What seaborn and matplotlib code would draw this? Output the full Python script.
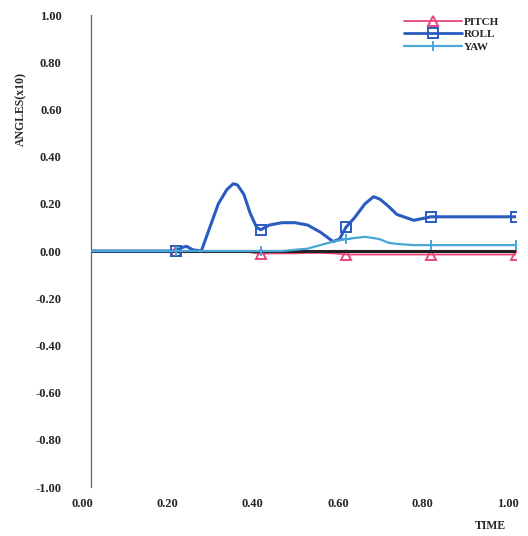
import matplotlib
matplotlib.use("Agg")
import matplotlib.pyplot as plt
import matplotlib.transforms as mtransforms
from matplotlib.lines import Line2D
import seaborn as sns
import pandas as pd

sns.set_theme(style="white")
plt.rcParams['font.family'] = ['Liberation Serif', 'DejaVu Serif']
plt.rcParams['font.weight'] = 'bold'

# ---- data ----
time = [0.00, 0.10, 0.19, 0.20, 0.215, 0.225, 0.24, 0.26, 0.28, 0.30, 0.32, 0.335,
        0.345, 0.36, 0.375, 0.39, 0.40, 0.42, 0.45, 0.48, 0.51, 0.54, 0.57, 0.585,
        0.60, 0.62, 0.645, 0.665, 0.68, 0.70, 0.72, 0.76, 0.80, 0.90, 1.00]
pitch = [0.0, 0.0, 0.0, 0.0, 0.0, 0.0, 0.0, 0.0, 0.0, 0.0, 0.0, 0.0,
         0.0, 0.0, -0.005, -0.01, -0.012, -0.01, -0.01, -0.01, -0.008, -0.008, -0.01, -0.012,
         -0.015, -0.015, -0.015, -0.015, -0.015, -0.015, -0.015, -0.015, -0.015, -0.015, -0.015]
roll = [0.0, 0.0, 0.0, 0.0, 0.015, 0.02, 0.005, 0.0, 0.10, 0.20, 0.26, 0.285,
        0.28, 0.24, 0.16, 0.10, 0.09, 0.11, 0.12, 0.12, 0.11, 0.08, 0.04, 0.05,
        0.10, 0.14, 0.20, 0.23, 0.22, 0.19, 0.155, 0.13, 0.145, 0.145, 0.145]
yaw = [0.0, 0.0, 0.0, 0.0, 0.0, 0.0, 0.0, 0.0, 0.0, 0.0, 0.0, 0.0,
       0.0, 0.0, 0.0, 0.0, 0.0, 0.0, 0.0, 0.005, 0.01, 0.025, 0.04, 0.045,
       0.05, 0.055, 0.06, 0.055, 0.05, 0.035, 0.03, 0.025, 0.025, 0.025, 0.025]
marker_times = [0.20, 0.40, 0.60, 0.80, 1.00]
series_names = ["PITCH", "ROLL", "YAW"]
y_ticks = [1.0, 0.8, 0.6, 0.4, 0.2, 0.0, -0.2, -0.4, -0.6, -0.8, -1.0]
y_tick_labels = ["1.00", "0.80", "0.60", "0.40", "0.20", "0.00",
                 "-0.20", "-0.40", "-0.60", "-0.80", "-1.00"]
x_ticks = [0.0, 0.2, 0.4, 0.6, 0.8, 1.0]
x_tick_labels = ["0.00", "0.20", "0.40", "0.60", "0.80", "1.00"]

colors = {"PITCH": "#e8457a", "ROLL": "#2a5cc0", "YAW": "#49a6d6"}
markers = {"PITCH": "^", "ROLL": "s", "YAW": "+"}
widths = {"PITCH": 1.3, "ROLL": 2.2, "YAW": 1.6}

df = pd.DataFrame({"time": time, "PITCH": pitch, "ROLL": roll, "YAW": yaw})
mark_idx = [time.index(t) for t in marker_times]

fig = plt.figure(figsize=(5.28, 5.36), dpi=100)
ax = fig.add_axes([0.172, 0.0914, 0.805, 0.8806])

ax.axhline(0, xmin=0, xmax=1, color="#222222", lw=2.2, zorder=2)

for name in series_names:
    sns.lineplot(data=df, x="time", y=name, ax=ax, color=colors[name],
                 lw=widths[name], marker=markers[name], markevery=mark_idx,
                 markersize=7, markerfacecolor="none", markeredgecolor=colors[name],
                 markeredgewidth=1.4, zorder=3 if name != "PITCH" else 1.5)

ax.set_xlim(0, 1.0)
ax.set_ylim(-1.0, 1.0)
ax.set_yticks(y_ticks)
ax.set_yticklabels(y_tick_labels, fontsize=9, fontweight="bold")
ax.set_xticks(x_ticks)
ax.set_xticklabels(x_tick_labels, fontsize=9, fontweight="bold")
ax.tick_params(axis="y", length=2, width=0.8, pad=20, color="#777777", direction="inout")
ax.tick_params(axis="x", length=0, pad=8)
offset = mtransforms.ScaledTranslation(-8 / 100, 0, fig.dpi_scale_trans)
for lab in ax.get_xticklabels():
    lab.set_transform(lab.get_transform() + offset)

for s in ["top", "right", "bottom"]:
    ax.spines[s].set_visible(False)
ax.spines["left"].set_color("#666666")
ax.spines["left"].set_linewidth(0.9)
ax.grid(False)

ax.set_ylabel("ANGLES(x10)", fontsize=8.5, fontweight="bold")
ax.yaxis.set_label_coords(-0.150, 0.80)
ax.set_xlabel("TIME", fontsize=8.5, fontweight="bold")
ax.xaxis.set_label_coords(0.94, -0.070)

handles = [Line2D([0], [0], color=colors[n], lw=widths[n] if n != "ROLL" else 2.0,
                  marker=markers[n], markersize=7, markerfacecolor="none",
                  markeredgecolor=colors[n], markeredgewidth=1.4) for n in series_names]
leg = ax.legend(handles, series_names, loc="upper right", bbox_to_anchor=(0.985, 1.017),
                frameon=False, handlelength=5.2, handletextpad=0.2, labelspacing=0.25,
                prop={"family": "Liberation Serif", "weight": "bold", "size": 8})

fig.savefig("out.png", dpi=100, facecolor="white")
